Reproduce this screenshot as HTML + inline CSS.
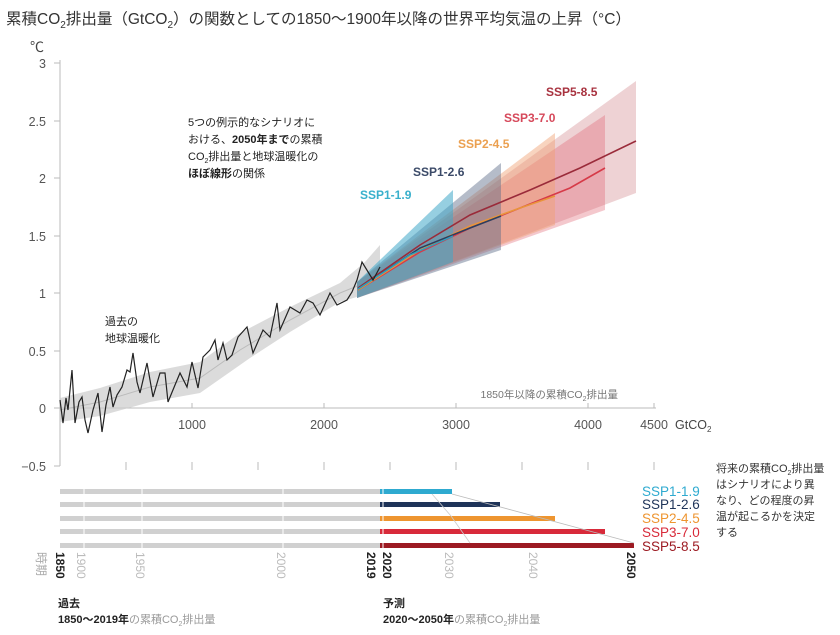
<!DOCTYPE html>
<html><head><meta charset="utf-8"><style>
body{margin:0;background:#fff;}
svg text{font-family:"Liberation Sans","Noto Sans CJK JP",sans-serif;}
</style></head><body>
<svg width="840" height="630" viewBox="0 0 840 630" xmlns="http://www.w3.org/2000/svg">
<text x="6" y="24" font-size="15.5" fill="#333">累積CO<tspan font-size="10" dy="4">2</tspan><tspan dy="-4">排出量（GtCO</tspan><tspan font-size="10" dy="4">2</tspan><tspan dy="-4">）の関数としての1850〜1900年以降の世界平均気温の上昇（°C）</tspan></text>
<text x="30" y="52" font-size="14" fill="#444">℃</text>
<g font-size="12.5" fill="#555" text-anchor="end">
<text x="46" y="68">3</text><text x="46" y="126">2.5</text><text x="46" y="183">2</text><text x="46" y="241">1.5</text><text x="46" y="298">1</text><text x="46" y="356">0.5</text><text x="46" y="413">0</text><text x="46" y="471">−0.5</text>
</g>
<g stroke="#bbb" stroke-width="1">
<line x1="60" y1="60" x2="60" y2="466"/><line x1="60" y1="408" x2="656" y2="408"/>
<line x1="54" y1="63" x2="60" y2="63"/><line x1="54" y1="121" x2="60" y2="121"/><line x1="54" y1="178" x2="60" y2="178"/><line x1="54" y1="236" x2="60" y2="236"/><line x1="54" y1="293" x2="60" y2="293"/><line x1="54" y1="351" x2="60" y2="351"/><line x1="54" y1="408" x2="60" y2="408"/><line x1="54" y1="466" x2="60" y2="466"/>
<line x1="192" y1="403" x2="192" y2="408"/><line x1="324" y1="403" x2="324" y2="408"/><line x1="456" y1="403" x2="456" y2="408"/><line x1="588" y1="403" x2="588" y2="408"/><line x1="654" y1="403" x2="654" y2="408"/>
<line x1="126" y1="462" x2="126" y2="470"/><line x1="192" y1="462" x2="192" y2="470"/><line x1="258" y1="462" x2="258" y2="470"/><line x1="324" y1="462" x2="324" y2="470"/><line x1="390" y1="462" x2="390" y2="470"/><line x1="456" y1="462" x2="456" y2="470"/><line x1="522" y1="462" x2="522" y2="470"/><line x1="588" y1="462" x2="588" y2="470"/><line x1="654" y1="462" x2="654" y2="470"/>
</g>
<g font-size="12.5" fill="#555" text-anchor="middle">
<text x="192" y="429">1000</text><text x="324" y="429">2000</text><text x="456" y="429">3000</text><text x="588" y="429">4000</text><text x="654" y="429">4500</text>
</g>
<text x="675" y="429" font-size="12.5" fill="#444">GtCO<tspan font-size="8" dy="3">2</tspan></text>
<text x="618" y="398" font-size="10.5" fill="#777" text-anchor="end">1850年以降の累積CO<tspan font-size="7" dy="3">2</tspan><tspan dy="-3">排出量</tspan></text>
<!-- historical band -->
<polygon points="60,398 100,388 150,372 200,362 240,333 290,307 340,283 365,262 380,245 380,290 340,302 290,332 250,358 200,393 150,402 100,416 60,422" fill="#ccc" opacity="0.7"/>
<polyline points="60,410 100,402 150,387 200,378 240,350 290,320 340,293 372,280" fill="none" stroke="#bbb" stroke-width="1"/>
<!-- fans -->
<polygon points="357,282 636,81 636,193 357,298" fill="#c66a70" opacity="0.3"/>
<polygon points="357,282 605,115 605,210 357,298" fill="#e06070" opacity="0.35"/>
<polygon points="357,282 555,133 555,225 357,298" fill="#f0a070" opacity="0.45"/>
<polygon points="357,282 501,163 501,250 357,298" fill="#5a6a88" opacity="0.45"/>
<polygon points="357,282 453,190 453,262 357,298" fill="#40a8c8" opacity="0.55"/>
<!-- central lines -->
<polyline points="358,288 420,245 470,215 530,190 580,168 636,141" fill="none" stroke="#9a2b3a" stroke-width="1.6"/>
<polyline points="358,290 420,252 470,228 530,204 570,188 605,168" fill="none" stroke="#d63a48" stroke-width="1.6"/>
<polyline points="358,290 420,250 470,226 520,208 555,196" fill="none" stroke="#e9943a" stroke-width="1.5"/>
<polyline points="358,289 420,248 470,228 501,216" fill="none" stroke="#2c3e60" stroke-width="1.5"/>
<polyline points="358,289 410,255 453,236" fill="none" stroke="#2aa0c0" stroke-width="1.5"/>
<!-- historical line -->
<polyline fill="none" stroke="#222" stroke-width="1.2" points="60,400 63,423 66,398 68,410 72,370 75,423 79,402 82,397 85,420 88,433 93,410 98,393 102,432 106,405 110,387 113,407 117,395 122,387 127,370 130,372 133,353 137,382 140,393 147,363 153,397 160,373 165,373 168,402 175,385 180,373 187,387 192,362 198,388 203,357 210,350 215,340 218,360 223,343 227,360 232,355 238,337 247,327 253,353 263,330 270,337 277,303 280,330 290,307 300,313 307,300 313,303 320,315 330,293 337,305 347,300 352,292 357,280 362,262 373,280 380,267"/>
<g font-size="12" font-weight="bold">
<text x="546" y="96" fill="#a8323f">SSP5-8.5</text>
<text x="504" y="122" fill="#d6485a">SSP3-7.0</text>
<text x="458" y="148" fill="#eba050">SSP2-4.5</text>
<text x="413" y="176" fill="#3b4a68">SSP1-2.6</text>
<text x="360" y="199" fill="#39b0cc">SSP1-1.9</text>
</g>
<g font-size="11" fill="#222">
<text x="188" y="126">5つの例示的なシナリオに</text>
<text x="188" y="143">おける、<tspan font-weight="bold">2050年まで</tspan>の累積</text>
<text x="188" y="160">CO<tspan font-size="7" dy="3">2</tspan><tspan dy="-3">排出量と地球温暖化の</tspan></text>
<text x="188" y="177"><tspan font-weight="bold">ほぼ線形</tspan>の関係</text>
<text x="105" y="325">過去の</text>
<text x="105" y="342">地球温暖化</text>
</g>
<!-- bars -->
<g>
<rect x="60" y="489" width="320" height="5" fill="#d0d0d0"/>
<rect x="60" y="502" width="320" height="5" fill="#d0d0d0"/>
<rect x="60" y="516" width="320" height="5" fill="#d0d0d0"/>
<rect x="60" y="529" width="320" height="5" fill="#d0d0d0"/>
<rect x="60" y="543" width="320" height="5" fill="#d0d0d0"/>
<rect x="380" y="489" width="72" height="5" fill="#2eaad0"/>
<rect x="380" y="502" width="120" height="5" fill="#1e3358"/>
<rect x="380" y="516" width="175" height="5" fill="#ee9530"/>
<rect x="380" y="529" width="225" height="5" fill="#d82a3a"/>
<rect x="380" y="543" width="254" height="5" fill="#9c1a22"/>
<g stroke="#fff" stroke-width="1"><line x1="84" y1="486" x2="84" y2="550"/><line x1="142" y1="486" x2="142" y2="550"/><line x1="283" y1="486" x2="283" y2="550"/><line x1="383" y1="486" x2="383" y2="550"/></g>
<polyline points="452,494 634,543" fill="none" stroke="#bbb" stroke-width="0.8"/>
<polyline points="432,494 451,516 470,543" fill="none" stroke="#ccc" stroke-width="0.8"/>
</g>
<g font-size="13.5" text-anchor="start">
<text x="642" y="496" fill="#2eaad0">SSP1-1.9</text>
<text x="642" y="509" fill="#1e3358">SSP1-2.6</text>
<text x="642" y="523" fill="#ee9530">SSP2-4.5</text>
<text x="642" y="537" fill="#d82a3a">SSP3-7.0</text>
<text x="642" y="551" fill="#9c1a22">SSP5-8.5</text>
</g>
<g font-size="11" fill="#333">
<text x="716" y="472">将来の累積CO<tspan font-size="7" dy="3">2</tspan><tspan dy="-3">排出量</tspan></text>
<text x="716" y="488">はシナリオにより異</text>
<text x="716" y="504">なり、どの程度の昇</text>
<text x="716" y="520">温が起こるかを決定</text>
<text x="716" y="536">する</text>
</g>
<!-- vertical year labels -->
<g font-size="12">
<text transform="translate(37,552) rotate(90)" fill="#aaa">時期</text>
<text transform="translate(56,552) rotate(90)" font-weight="bold" fill="#222">1850</text>
<text transform="translate(77,552) rotate(90)" fill="#bbb">1900</text>
<text transform="translate(136,552) rotate(90)" fill="#bbb">1950</text>
<text transform="translate(277,552) rotate(90)" fill="#bbb">2000</text>
<text transform="translate(367,552) rotate(90)" font-weight="bold" fill="#222">2019</text>
<text transform="translate(383,552) rotate(90)" font-weight="bold" fill="#222">2020</text>
<text transform="translate(445,552) rotate(90)" fill="#bbb">2030</text>
<text transform="translate(529,552) rotate(90)" fill="#bbb">2040</text>
<text transform="translate(627,552) rotate(90)" font-weight="bold" fill="#222">2050</text>
</g>
<g font-size="11">
<text x="58" y="607" font-weight="bold" fill="#222">過去</text>
<text x="58" y="623" fill="#999"><tspan font-weight="bold" fill="#222">1850〜2019年</tspan>の累積CO<tspan font-size="7" dy="3">2</tspan><tspan dy="-3">排出量</tspan></text>
<text x="383" y="607" font-weight="bold" fill="#222">予測</text>
<text x="383" y="623" fill="#999"><tspan font-weight="bold" fill="#222">2020〜2050年</tspan>の累積CO<tspan font-size="7" dy="3">2</tspan><tspan dy="-3">排出量</tspan></text>
</g>
</svg>
</body></html>
